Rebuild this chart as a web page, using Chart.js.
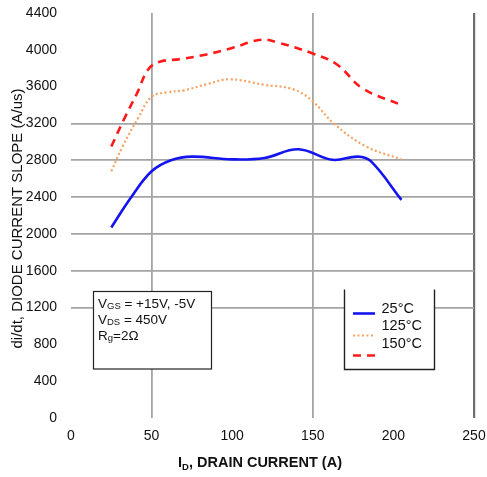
<!DOCTYPE html>
<html>
<head>
<meta charset="utf-8">
<script src="https://cdn.jsdelivr.net/npm/chart.js@4/dist/chart.umd.min.js"></script>
<style>
  html, body { margin: 0; padding: 0; background: #fff; }
  #wrap { width: 487px; height: 477px; position: relative; }
</style>
</head>
<body>
<div id="wrap"><canvas id="c" width="487" height="477"></canvas></div>
<script>
// Diode di/dt versus drain current at three junction temperatures
const seriesLabels = ['25°C', '125°C', '150°C'];

const current25 = [25, 37, 50, 62, 75, 100, 120, 141, 162, 178, 186, 205];
const slope25   = [2070, 2390, 2680, 2800, 2840, 2810, 2825, 2920, 2805, 2840, 2790, 2370];

const current125 = [25, 32, 42, 50, 60, 70, 85, 98, 120, 138, 150, 163, 183, 205];
const slope125   = [2680, 2950, 3270, 3490, 3540, 3560, 3630, 3680, 3620, 3570, 3440, 3200, 2950, 2810];

const current150 = [25, 33, 41, 48, 55, 68, 84, 100, 118, 128, 150, 165, 181, 205];
const slope150   = [2950, 3250, 3530, 3790, 3870, 3900, 3950, 4020, 4110, 4080, 3960, 3840, 3580, 3400];

const xTicks = [0, 50, 100, 150, 200, 250];
const yTicks = [0, 400, 800, 1200, 1600, 2000, 2400, 2800, 3200, 3600, 4000, 4400];
const xGridValues = [50, 150];
const yGridValues = [1200, 1600, 2000, 2400, 2800, 3200];

const conditionLines = [
  ['V', 'GS', ' = +15V, -5V'],
  ['V', 'DS', ' = 450V'],
  ['R', 'g', '=2Ω']
];

const FONT = '"Liberation Sans", Arial, Helvetica, sans-serif';

function pts(xs, ys) { return xs.map((x, i) => ({ x, y: ys[i] })); }

const styles = [
  { color: '#1414f0', width: 2.6, dash: [] },
  { color: '#f6a264', width: 2.2, dash: [2, 2.5] },
  { color: '#ff1a1a', width: 2.6, dash: [8, 6] }
];

const data = {
  datasets: [
    { label: seriesLabels[0], data: pts(current25, slope25) },
    { label: seriesLabels[1], data: pts(current125, slope125) },
    { label: seriesLabels[2], data: pts(current150, slope150) }
  ].map((d, i) => Object.assign(d, {
    borderColor: styles[i].color,
    borderWidth: styles[i].width,
    borderDash: styles[i].dash,
    pointRadius: 0,
    fill: false,
    tension: 0.4
  }))
};

// Titles, condition box and temperature key drawn over the plot
const overlay = {
  id: 'overlay',
  beforeDatasetsDraw(chart) {
    const { ctx } = chart;
    ctx.save();

    // condition box
    const bx = 93.5, by = 291.5, bw = 118, bh = 77.5;
    ctx.fillStyle = '#fff';
    ctx.fillRect(bx, by, bw, bh);
    ctx.strokeStyle = '#222';
    ctx.lineWidth = 1.2;
    ctx.strokeRect(bx, by, bw, bh);
    ctx.fillStyle = '#111';
    ctx.textBaseline = 'alphabetic';
    ctx.textAlign = 'left';
    conditionLines.forEach((ln, i) => {
      let x = 98, y = 308 + i * 16;
      ctx.font = '13.5px ' + FONT;
      ctx.fillText(ln[0], x, y);
      x += ctx.measureText(ln[0]).width;
      ctx.font = '9.5px ' + FONT;
      ctx.fillText(ln[1], x, y + (ln[1] === 'g' ? 1 : 0.5));
      x += ctx.measureText(ln[1]).width;
      ctx.font = '13.5px ' + FONT;
      ctx.fillText(ln[2], x, y);
    });

    // temperature key (open top)
    const lx = 344.5, ly = 289.5, lr = 434.5, lb = 369.5;
    ctx.fillStyle = '#fff';
    ctx.fillRect(lx, ly, lr - lx, lb - ly);
    ctx.strokeStyle = '#222';
    ctx.lineWidth = 1.4;
    ctx.beginPath();
    ctx.moveTo(lx, ly); ctx.lineTo(lx, lb); ctx.lineTo(lr, lb); ctx.lineTo(lr, ly);
    ctx.stroke();
    const sampleY = [313.5, 335.5, 355.5];
    const textY = [308.5, 326, 343.5];
    chart.data.datasets.forEach((ds, i) => {
      ctx.strokeStyle = ds.borderColor;
      ctx.lineWidth = ds.borderWidth;
      ctx.setLineDash(ds.borderDash);
      ctx.beginPath();
      ctx.moveTo(353, sampleY[i]);
      ctx.lineTo(375, sampleY[i]);
      ctx.stroke();
      ctx.setLineDash([]);
      ctx.fillStyle = '#111';
      ctx.font = '14.5px ' + FONT;
      ctx.textBaseline = 'middle';
      ctx.fillText(ds.label, 381.5, textY[i]);
    });

    ctx.restore();
  },
  afterDraw(chart) {
    const { ctx, chartArea: a } = chart;
    ctx.save();
    ctx.fillStyle = '#111';

    // y-axis title
    ctx.translate(17.5, (a.top + a.bottom) / 2 + 3);
    ctx.rotate(-Math.PI / 2);
    ctx.font = '15px ' + FONT;
    ctx.textAlign = 'center';
    ctx.textBaseline = 'middle';
    ctx.fillText('di/dt, DIODE CURRENT SLOPE (A/us)', 0, 0);
    ctx.setTransform(1, 0, 0, 1, 0, 0);

    // x-axis title with subscript
    const big = 'bold 14.5px ' + FONT, small = 'bold 9.5px ' + FONT;
    const parts = [['I', big, 0], ['D', small, 3], [', DRAIN CURRENT (A)', big, 0]];
    let w = 0;
    parts.forEach(p => { ctx.font = p[1]; w += ctx.measureText(p[0]).width; });
    let x = 260 - w / 2;
    const y = 467;
    ctx.textAlign = 'left';
    ctx.textBaseline = 'alphabetic';
    parts.forEach(p => {
      ctx.font = p[1];
      ctx.fillText(p[0], x, y + p[2]);
      x += ctx.measureText(p[0]).width;
    });
    ctx.restore();
  }
};

function noOverflow(s) {
  s.paddingTop = 0; s.paddingBottom = 0; s.paddingLeft = 0; s.paddingRight = 0;
}

new Chart(document.getElementById('c'), {
  type: 'line',
  data,
  options: {
    responsive: false,
    animation: false,
    layout: { padding: { left: 0, right: 13, top: 13, bottom: 0 } },
    plugins: { legend: { display: false }, tooltip: { enabled: false } },
    scales: {
      x: {
        type: 'linear',
        min: 0, max: 250,
        afterBuildTicks(s) { s.ticks = xTicks.map(v => ({ value: v })); },
        afterFit(s) { s.height = 59; noOverflow(s); },
        border: { display: false },
        grid: {
          drawTicks: false,
          color: c => c.tick.value === 250 ? '#6e6e6e' : (xGridValues.includes(c.tick.value) ? '#a4a4a4' : 'rgba(0,0,0,0)'),
          lineWidth: c => c.tick.value === 250 ? 2.2 : 1.8
        },
        ticks: { padding: 10, color: '#111', font: { family: FONT, size: 14 }, callback: v => String(v) }
      },
      y: {
        min: 0, max: 4400,
        afterBuildTicks(s) { s.ticks = yTicks.map(v => ({ value: v })); },
        afterFit(s) { s.width = 71; noOverflow(s); },
        border: { display: false },
        grid: {
          drawTicks: false,
          color: c => yGridValues.includes(c.tick.value) ? '#a4a4a4' : 'rgba(0,0,0,0)',
          lineWidth: 1.8
        },
        ticks: { padding: 14, color: '#111', font: { family: FONT, size: 14 }, callback: v => String(v) }
      }
    }
  },
  plugins: [overlay]
});
</script>
</body>
</html>
